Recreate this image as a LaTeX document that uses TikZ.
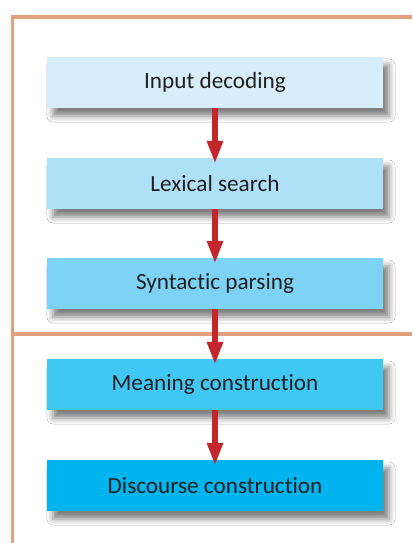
\documentclass[tikz,border=0pt]{standalone}
\usepackage{fontspec}
\setmainfont[Ligatures={NoCommon}]{Carlito}
\usetikzlibrary{arrows.meta,shadows.blur}
\definecolor{framec}{HTML}{E4A07E}
\definecolor{arrowc}{HTML}{C1272D}
\definecolor{txtc}{HTML}{231F20}
\definecolor{cA}{HTML}{D6EEFA}
\definecolor{cB}{HTML}{AEE1F8}
\definecolor{cC}{HTML}{7DD3F6}
\definecolor{cD}{HTML}{40C7F3}
\definecolor{cE}{HTML}{00B4EF}
\tikzset{
  stagebox/.style={minimum width=336bp, minimum height=51bp, inner sep=0pt, text=txtc,
    font=\fontsize{23.3}{28}\selectfont,
    blur shadow={shadow xshift=6bp, shadow yshift=-8bp, shadow blur radius=6bp, shadow opacity=50}},
  flowarrow/.style={draw=arrowc, line width=6bp, -{Triangle[width=15bp,length=23bp,fill=arrowc]}},
  frameline/.style={draw=framec, line width=3.5bp}
}
\begin{document}
\begin{tikzpicture}[x=1bp,y=-1bp]
\useasboundingbox[fill=white] (0,0) rectangle (412,543);
\coordinate (ftl) at (12.5,17);
\coordinate (ftr) at (412,17);
\coordinate (fbl) at (12.5,543);
\coordinate (dl) at (12.5,334);
\coordinate (dr) at (412,334);
\draw[frameline] (fbl) -- (ftl) -- (ftr);
\draw[frameline] (dl) -- (dr);
\node[stagebox, fill=cA] (b1) at (215,82.5) {Input decoding};
\node[stagebox, fill=cB] (b2) at (215,183.5) {Lexical search};
\node[stagebox, fill=cC] (b3) at (215,283.5) {Syntactic parsing};
\node[stagebox, fill=cD] (b4) at (215,384.5) {Meaning construction};
\node[stagebox, fill=cE] (b5) at (215,485.5) {Discourse construction};
\draw[flowarrow] (b1.south) -- ([yshift=-6bp]b2.north);
\draw[flowarrow] (b2.south) -- ([yshift=-6bp]b3.north);
\draw[flowarrow] (b3.south) -- ([yshift=-6bp]b4.north);
\draw[flowarrow] (b4.south) -- ([yshift=-6bp]b5.north);
\end{tikzpicture}
\end{document}
